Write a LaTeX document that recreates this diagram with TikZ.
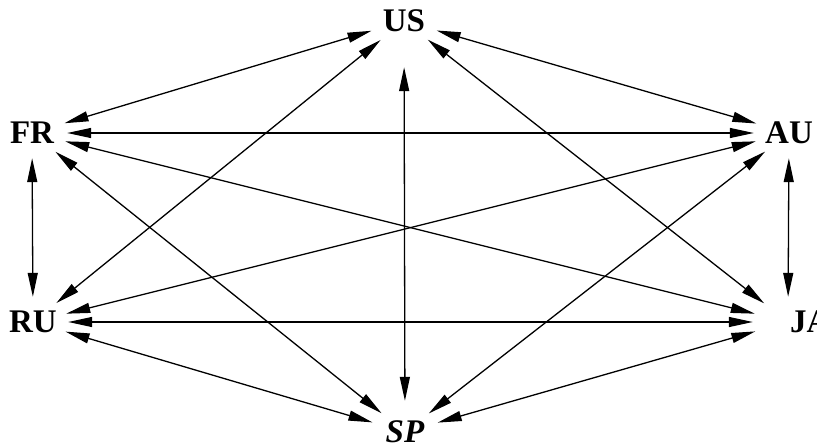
\documentclass[tikz,border=0pt]{standalone}
\usepackage{fontspec}
\setmainfont{Liberation Serif}
\usetikzlibrary{arrows.meta,shapes.geometric}
\tikzset{
    country/.style={ellipse, minimum width=70pt, minimum height=50pt, inner sep=0pt,
        font=\fontsize{33}{38}\selectfont\bfseries},
    link/.style={line width=1.3pt, {Triangle[length=24pt,width=10pt]}-{Triangle[length=24pt,width=10pt]}}
}
\begin{document}
\begin{tikzpicture}[x=1pt, y=-1pt]
    \useasboundingbox (0,0) rectangle (817,442);

    % countries
    \node[country] (us) at (404,21) {US};
    \node[country] (fr) at (32,133) {FR};
    \node[country] (au) at (789,133) {AU};
    \node[country] (ru) at (33,322) {RU};
    % JA sits right of its point
    \node[country] (ja) at (788,322) {\makebox[0pt][l]{\hspace{2pt}JA}};
    \node[country] (sp) at (405,432) {\itshape SP};

    % from US
    \draw[link] (us) -- (fr);
    \draw[link] (us) -- (au);
    \draw[link] (us) -- (ru);
    \draw[link] (us) -- (ja);
    \draw[link, shorten <=21pt, shorten >=6pt] (us) -- (sp);

    % from FR
    \draw[link] (fr) -- (au);
    \draw[link] (fr) -- (ru);
    \draw[link] (fr) -- (ja);
    \draw[link] (fr) -- (sp);

    % from AU
    \draw[link] (au) -- (ru);
    \draw[link] (au) -- (ja);
    \draw[link] (au) -- (sp);

    % bottom row
    \draw[link] (ru) -- (ja);
    \draw[link] (ru) -- (sp);
    \draw[link] (ja) -- (sp);
\end{tikzpicture}
\end{document}
